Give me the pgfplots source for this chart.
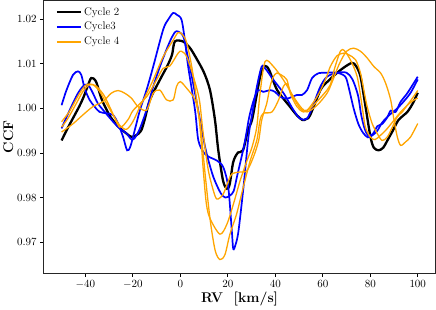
\documentclass[border=0pt]{standalone}
\usepackage{pgfplots}
\pgfplotsset{compat=1.18}
\definecolor{mplorange}{RGB}{255,165,0}
\begin{document}
\begin{tikzpicture}
\begin{axis}[
  scale only axis,
  width=389bp, height=271bp,
  xmin=-57.5, xmax=107.5,
  ymin=0.9630, ymax=1.0242,
  xtick={-40,-20,0,20,40,60,80,100},
  ytick={0.97,0.98,0.99,1.00,1.01,1.02},
  yticklabel style={/pgf/number format/fixed,/pgf/number format/precision=2,/pgf/number format/fixed zerofill},
  scaled y ticks=false,
  tick align=outside, tick pos=left,
  major tick length=3.5bp,
  tick style={line width=0.8pt, black},
  axis line style={line width=0.9pt, black!85},
  tick label style={font=\fontsize{11}{13}\selectfont},
  xlabel={\textbf{RV\ \ [km/s]}},
  ylabel={\textbf{CCF}},
  label style={font=\fontsize{14}{16}\selectfont},
  xlabel style={yshift=3bp},
  ylabel style={yshift=-3bp},
  legend style={draw=none, fill=none, at={(0.022,0.99)}, anchor=north west, font=\fontsize{11}{13}\selectfont, row sep=1.5pt},
  legend cell align=left,
  legend image code/.code={\draw[#1] (0cm,0cm) -- (0.85cm,0cm);},
]
% Cycle 2
\addplot[black, line width=2.3pt, smooth] coordinates {
(-50,0.9928)(-47.5,0.9955)(-44.9,0.9981)(-42.5,1.0005)(-40.7,1.0026)(-39,1.0050)(-37.5,1.0068)(-35.5,1.0060)(-33,1.0019)(-29.4,0.9981)(-25.9,0.9958)(-23,0.9945)(-20.6,0.9936)(-18.5,0.9940)(-16.5,0.9950)(-15,0.9975)(-12.8,1.0019)(-8.6,1.0064)(-5.5,1.0095)(-3.5,1.0120)(-2.3,1.0150)(1.1,1.0150)(4,1.0136)(7,1.0110)(10,1.0080)(12.5,1.0041)(14.6,0.9974)(16,0.9906)(18,0.9838)(19.6,0.9820)(20.8,0.9830)(22.3,0.9880)(24.3,0.9901)(26.4,0.9906)(28.5,0.9951)(30.2,0.9974)(32,1.0025)(33.8,1.0075)(35.7,1.0095)(37.5,1.0085)(40.8,1.0041)(46.3,1.0003)(49,0.9985)(51.4,0.9974)(53,0.9976)(54.7,0.9985)(59,1.0041)(62,1.0060)(66.1,1.0080)(69,1.0092)(72.3,1.0102)(74,1.0095)(75.9,1.0071)(78,1.0004)(80.1,0.9936)(81.5,0.9912)(83.5,0.9906)(85.5,0.9912)(87.2,0.9928)(89.5,0.9950)(91.9,0.9974)(95.6,0.9992)(98,1.0012)(100,1.0035)
};
\addlegendentry{Cycle 2}
% Cycle3 (A)
\addplot[blue, line width=1.7pt, smooth] coordinates {
(-50,1.0007)(-48,1.0040)(-45.2,1.0075)(-43.1,1.0083)(-41.7,1.0075)(-40.3,1.0045)(-38.2,1.0019)(-36.1,1.0004)(-34,0.9992)(-31.1,0.9989)(-28.3,0.9985)(-26.2,0.9966)(-24.1,0.9936)(-22.4,0.9906)(-21,0.9915)(-19,0.9955)(-17,0.9996)(-14,1.0045)(-11.4,1.0094)(-7.2,1.0177)(-5,1.0200)(-3,1.0214)(-1.5,1.0210)(0.5,1.0199)(2,1.0150)(3.3,1.0094)(6.2,0.9996)(7.6,0.9928)(10,0.9900)(12.5,0.9890)(15.4,0.9883)(18.1,0.9868)(20.2,0.9823)(21.7,0.9725)(22.3,0.9685)(23.3,0.9695)(24.5,0.9725)(26.6,0.9823)(28.7,0.9936)(30.5,0.9995)(32.3,1.0050)(34.3,1.0094)(36,1.0088)(39.2,1.0064)(43.5,1.0034)(47.7,0.9996)(50.5,0.9977)(53.4,0.9977)(56.2,1.0011)(59,1.0049)(61.8,1.0071)(66,1.0080)(70,1.0080)(72.5,1.0065)(74.8,1.0030)(76.2,0.9985)(77.6,0.9955)(79,0.9940)(81,0.9942)(83,0.9960)(85,0.9965)(87.2,0.9980)(88.6,0.9995)(90.7,0.9992)(92.8,1.0015)(95.6,1.0034)(100,1.0071)
};
\addlegendentry{Cycle3}
% Cycle3 (B)
\addplot[blue, line width=1.7pt, smooth, forget plot] coordinates {
(-50,0.9955)(-46.6,0.9996)(-43.1,1.0034)(-40.3,1.0053)(-38.5,1.0050)(-36.8,1.0034)(-34.7,1.0011)(-31.5,0.9990)(-28.3,0.9970)(-25.5,0.9955)(-22.7,0.9944)(-20.5,0.9930)(-19,0.9935)(-17,0.9955)(-14,1.0000)(-11.4,1.0049)(-8.5,1.0095)(-5.8,1.0132)(-3.5,1.0160)(-1.6,1.0173)(1.2,1.0162)(3,1.0120)(5.4,1.0056)(8.3,0.9974)(10,0.9925)(11.5,0.9890)(14,0.9845)(17,0.9810)(19,0.9800)(21,0.9805)(22.5,0.9815)(24,0.9850)(27,0.9920)(29,0.9980)(31,1.0020)(32.8,1.0041)(35,1.0037)(37.8,1.0041)(39.9,1.0037)(42.1,1.0026)(45,1.0022)(49.1,1.0030)(51.2,1.0030)(53.4,1.0041)(55.5,1.0068)(58.3,1.0079)(61.8,1.0080)(66,1.0080)(69.5,1.0071)(71,1.0045)(73,1.0000)(75,0.9965)(77,0.9945)(79,0.9935)(81,0.9940)(83,0.9950)(85,0.9968)(88,0.9985)(91,0.9998)(94,1.0015)(97,1.0035)(100,1.0065)
};
\addlegendimage{mplorange, line width=1.9pt}
\addlegendentry{Cycle 4}
% Cycle 4 (A)
\addplot[mplorange, line width=1.3pt, smooth, forget plot] coordinates {
(-50,0.9970)(-46.6,0.9994)(-42.4,1.0034)(-39.6,1.0053)(-36.8,1.0053)(-34,1.0038)(-31.1,1.0011)(-28.3,0.9985)(-25.5,0.9962)(-22.7,0.9953)(-20,0.9970)(-17,1.0004)(-14,1.0035)(-11.4,1.0064)(-7.2,1.0116)(-3,1.0153)(-0.9,1.0170)(1,1.0165)(2.7,1.0147)(4.8,1.0094)(6.9,1.0019)(8.3,0.9958)(9.7,0.9860)(11,0.9785)(12.6,0.9752)(16.7,0.9718)(19.6,0.9740)(22.4,0.9786)(25.2,0.9838)(28.1,0.9883)(30.2,0.9913)(32.2,0.9958)(33.5,1.0030)(35.7,1.0105)(39.2,1.0094)(43.4,1.0064)(47.7,1.0026)(51.2,1.0000)(53.4,0.9996)(57.6,1.0026)(61.1,1.0064)(63.2,1.0094)(66,1.0118)(69,1.0124)(71,1.0120)(73.8,1.0109)(75.9,1.0079)(77.3,1.0041)(78.7,1.0004)(80.8,0.9966)(82.9,0.9944)(85,0.9928)(87.2,0.9936)(89.3,0.9958)(91.4,0.9981)(93.5,0.9992)(95.6,1.0007)(98.5,1.0019)(100,1.0023)
};
% Cycle 4 (B)
\addplot[mplorange, line width=1.3pt, smooth, forget plot] coordinates {
(-50,0.9958)(-47.4,0.9977)(-43.8,1.0011)(-41,1.0038)(-38.2,1.0053)(-35.4,1.0050)(-32,1.0028)(-29,0.9995)(-25.5,0.9958)(-22,0.9975)(-19.8,0.9996)(-14.2,1.0026)(-10,1.0064)(-7.2,1.0090)(-4.4,1.0095)(-0.9,1.0124)(0.5,1.0128)(2.7,1.0116)(5.5,1.0071)(8,1.0020)(9.5,0.9950)(11.8,0.9861)(14.6,0.9804)(16,0.9797)(18.1,0.9808)(20.3,0.9838)(21.7,0.9853)(24.5,0.9857)(28,0.9860)(30.8,0.9891)(33,0.9928)(34.3,0.9974)(36.4,1.0011)(37.8,1.0049)(39.2,1.0071)(40.6,1.0079)(42.5,1.0075)(44.9,1.0064)(46.3,1.0034)(49.1,1.0004)(51.9,0.9992)(54.7,1.0000)(58.2,1.0019)(61.8,1.0041)(63.2,1.0053)(65,1.0090)(67.4,1.0128)(69,1.0130)(71.6,1.0109)(74.5,1.0071)(76.6,1.0004)(77.9,0.9959)(80,0.9936)(82,0.9930)(84.4,0.9940)(87.2,0.9955)(92.8,0.9992)(95.6,1.0007)(100,1.0040)
};
% Cycle 4 (C)
\addplot[mplorange, line width=1.3pt, smooth, forget plot] coordinates {
(-50,0.9947)(-45.3,0.9965)(-41.1,0.9985)(-36.8,1.0004)(-32.6,1.0015)(-29.1,1.0034)(-26.2,1.0040)(-23.4,1.0034)(-20.6,1.0023)(-17.8,1.0004)(-14.2,0.9996)(-11.4,1.0034)(-8.6,1.0041)(-5.8,1.0019)(-3,1.0019)(-1.6,1.0049)(0,1.0060)(2.7,1.0045)(5.5,1.0026)(7,1.0005)(8.5,0.9960)(10.5,0.9850)(12.6,0.9749)(14.7,0.9681)(16.7,0.9661)(18.8,0.9672)(20.9,0.9718)(23.7,0.9763)(26.5,0.9823)(29.4,0.9882)(32.2,0.9928)(33.6,0.9974)(35,0.9989)(38.6,0.9992)(41.4,1.0019)(43.4,1.0049)(45,1.0055)(47,1.0030)(50.5,1.0000)(53.4,0.9992)(57.6,1.0007)(61.8,1.0034)(64,1.0060)(67,1.0100)(70,1.0128)(73,1.0135)(75.9,1.0128)(78.7,1.0113)(81.5,1.0094)(84.4,1.0079)(86.5,1.0056)(88.6,1.0019)(90,0.9974)(91.4,0.9936)(92.8,0.9917)(94.9,0.9925)(97,0.9936)(100,0.9966)
};
\end{axis}
\end{tikzpicture}
\end{document}
